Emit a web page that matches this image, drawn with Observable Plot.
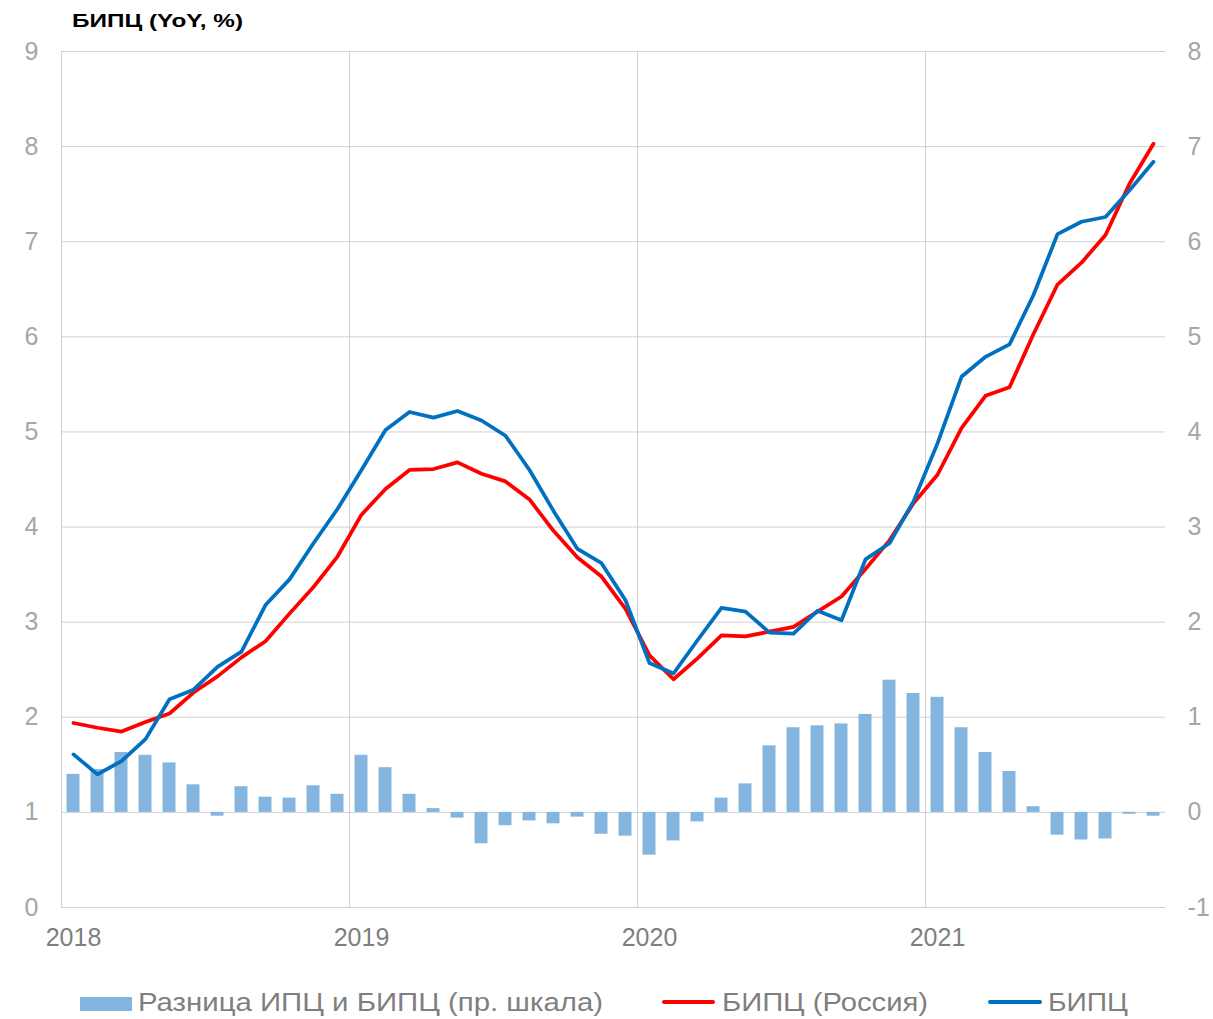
<!DOCTYPE html>
<html>
<head>
<meta charset="utf-8">
<script src="https://cdn.jsdelivr.net/npm/d3@7"></script>
<script src="https://cdn.jsdelivr.net/npm/@observablehq/plot@0.6"></script>
<style>
html, body { margin: 0; padding: 0; background: #fff; overflow: hidden; }
#wrap { position: relative; width: 1213px; height: 1019px; font-family: Arial, "Liberation Sans", sans-serif; }
#title { position: relative; height: 30px; }
#title span { position: absolute; left: 72px; top: 11px; font-weight: bold; font-size: 19px; line-height: 19px; color: #000; white-space: nowrap; display: inline-block; transform-origin: left center; }
#chart svg { display: block; }
#legend { position: relative; height: 44px; }
#legend .txt { position: absolute; top: 14px; font-size: 26px; line-height: 26px; color: #7f7f7f; white-space: nowrap; display: inline-block; transform-origin: left center; }
#legend .sw { position: absolute; }
</style>
</head>
<body>
<div id="wrap">
  <div id="title"><span id="ttl">БИПЦ (YoY, %)</span></div>
  <div id="chart"></div>
  <div id="legend">
    <div class="sw" style="left:80px;top:22px;width:52px;height:14px;background:#84B5DF;"></div>
    <span class="txt" id="l1" style="left:138px;">Разница ИПЦ и БИПЦ (пр. шкала)</span>
    <div class="sw" style="left:662px;top:25px;width:53px;height:4px;border-radius:2px;background:#ff0000;"></div>
    <span class="txt" id="l2" style="left:722px;">БИПЦ (Россия)</span>
    <div class="sw" style="left:988px;top:25px;width:54px;height:4px;border-radius:2px;background:#0070C0;"></div>
    <span class="txt" id="l3" style="left:1048px;">БИПЦ</span>
  </div>
</div>
<script>
// Monthly data, Jan 2018 .. Oct 2021 (46 months)
const diffCpiHicp = [0.40, 0.45, 0.63, 0.60, 0.52, 0.29, -0.04, 0.27, 0.16, 0.15, 0.28, 0.19,
                     0.60, 0.47, 0.19, 0.04, -0.06, -0.33, -0.14, -0.09, -0.12, -0.05, -0.23, -0.25,
                     -0.45, -0.30, -0.10, 0.15, 0.30, 0.70, 0.89, 0.91, 0.93, 1.03, 1.39, 1.25,
                     1.21, 0.89, 0.63, 0.43, 0.06, -0.24, -0.29, -0.28, -0.02, -0.04];
const hicpRussia = [1.94, 1.89, 1.85, 1.95, 2.04, 2.26, 2.43, 2.63, 2.80, 3.09, 3.37, 3.69,
                    4.13, 4.40, 4.60, 4.61, 4.68, 4.56, 4.48, 4.29, 3.96, 3.68, 3.48, 3.14,
                    2.65, 2.40, 2.62, 2.86, 2.85, 2.90, 2.95, 3.11, 3.27, 3.56, 3.86, 4.25,
                    4.55, 5.04, 5.38, 5.47, 6.03, 6.55, 6.78, 7.07, 7.61, 8.03];
const hicp = [1.61, 1.40, 1.54, 1.77, 2.19, 2.29, 2.53, 2.69, 3.18, 3.45, 3.83, 4.19,
              4.60, 5.02, 5.21, 5.15, 5.22, 5.12, 4.96, 4.60, 4.17, 3.77, 3.62, 3.23,
              2.57, 2.46, 2.81, 3.15, 3.11, 2.89, 2.88, 3.12, 3.02, 3.66, 3.83, 4.27,
              4.88, 5.58, 5.79, 5.92, 6.44, 7.08, 7.21, 7.26, 7.54, 7.84];
const yearLabels = ["2018", "2019", "2020", "2021"];
const leftTicks = [0, 1, 2, 3, 4, 5, 6, 7, 8, 9];

const data = diffCpiHicp.map((d, i) => ({i, diff: d, ru: hicpRussia[i], ea: hicp[i]}));
const yearStarts = yearLabels.map((y, k) => k * 12);

const gridColor = "#d0d0d0";
const chart = Plot.plot({
  width: 1213,
  height: 945,
  marginTop: 21,
  marginBottom: 68,
  marginLeft: 61,
  marginRight: 48,
  x: {domain: [0, 46], axis: null},
  y: {domain: [0, 9], axis: null},
  style: {fontFamily: 'Arial, "Liberation Sans", sans-serif', fontSize: "25px", background: "white", overflow: "visible"},
  marks: [
    Plot.gridY(leftTicks, {stroke: gridColor, strokeOpacity: 1, strokeWidth: 1}),
    Plot.gridX(yearStarts, {stroke: gridColor, strokeOpacity: 1, strokeWidth: 1}),
    Plot.rect(data, {x1: "i", x2: d => d.i + 1, y1: 1, y2: d => d.diff + 1, insetLeft: 5.5, insetRight: 5.5, fill: "#84B5DF"}),
    Plot.line(data, {x: d => d.i + 0.5, y: "ru", stroke: "#ff0000", strokeWidth: 3.75, strokeLinejoin: "round", strokeLinecap: "round"}),
    Plot.line(data, {x: d => d.i + 0.5, y: "ea", stroke: "#0070C0", strokeWidth: 3.75, strokeLinejoin: "round", strokeLinecap: "round"}),
    Plot.axisY(leftTicks, {anchor: "left", label: null, tickSize: 0, tickPadding: 23, color: "#a6a6a6", fontSize: 25, tickFormat: d => String(d)}),
    Plot.axisY(leftTicks, {anchor: "right", label: null, tickSize: 0, tickPadding: 22, color: "#a6a6a6", fontSize: 25, tickFormat: d => String(d - 1)}),
    Plot.axisX(yearStarts.map(d => d + 0.5), {anchor: "bottom", label: null, tickSize: 0, tickPadding: 21, color: "#7f7f7f", fontSize: 25, tickFormat: d => yearLabels[Math.round((d - 0.5) / 12)]})
  ]
});
document.getElementById("chart").appendChild(chart);

function fitWidth(id, target) {
  const el = document.getElementById(id);
  const w = el.getBoundingClientRect().width;
  if (w > 0) el.style.transform = `scaleX(${target / w})`;
}
fitWidth("ttl", 171);
fitWidth("l1", 465);
fitWidth("l2", 206);
fitWidth("l3", 80);
</script>
</body>
</html>
